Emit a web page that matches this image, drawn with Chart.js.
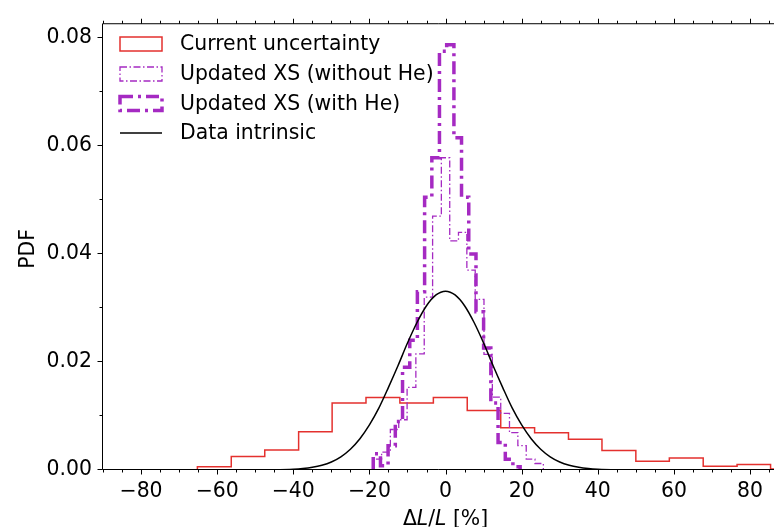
<!DOCTYPE html>
<html>
<head>
<meta charset="utf-8">
<script src="https://cdn.jsdelivr.net/npm/chart.js@4.4.0/dist/chart.umd.min.js"></script>
<style>
  html, body { margin: 0; padding: 0; background: #fff; }
</style>
</head>
<body>
<canvas id="chart" width="774" height="527"></canvas>
<script>
// tick labels
const xTicks = [-80, -60, -40, -20, 0, 20, 40, 60, 80];
const yTicks = [0, 0.02, 0.04, 0.06, 0.08];

// current uncertainty (bin edges + pdf per bin)
const currentEdges = [-65.2, -56.3, -47.5, -38.6, -29.8, -20.9, -12.0, -3.2, 5.7, 14.5, 23.4, 32.3, 41.1, 50.0, 58.8, 67.7, 76.6, 85.4, 94.3];
const currentPdf = [0.0006, 0.0025, 0.0037, 0.0071, 0.0124, 0.0134, 0.0124, 0.0134, 0.0110, 0.0078, 0.0069, 0.0057, 0.0036, 0.0016, 0.0022, 0.0007, 0.0010, 0.0002];

// updated XS without He
const noHeEdges = [-19.0, -16.8, -14.5, -12.3, -10.1, -7.8, -5.6, -3.4, -1.1, 1.1, 3.4, 5.6, 7.8, 10.1, 12.3, 14.5, 16.8, 19.0, 21.2, 23.5, 25.7];
const noHePdf = [0.0020, 0.0033, 0.0075, 0.0093, 0.0153, 0.0215, 0.0320, 0.0470, 0.0578, 0.0424, 0.0440, 0.0370, 0.0316, 0.0214, 0.0135, 0.0105, 0.0069, 0.0045, 0.0020, 0.0012];

// updated XS with He
const withHeEdges = [-19.0, -17.1, -15.1, -13.2, -11.3, -9.4, -7.4, -5.5, -3.6, -1.6, 0.3, 2.2, 4.2, 6.1, 8.0, 10.0, 11.9, 13.8, 15.7, 17.7, 19.6];
const withHePdf = [0.0030, 0.0008, 0.0045, 0.0090, 0.0190, 0.0240, 0.0330, 0.0505, 0.0578, 0.0775, 0.0787, 0.0615, 0.0505, 0.0400, 0.0293, 0.0226, 0.0124, 0.0051, 0.0020, 0.0006];

// data intrinsic curve
const intrinsicX = [-90, -60, -50, -45, -40, -37.5, -35, -32.5, -30, -27.5, -25, -22.5, -20, -17.5, -15, -12.5, -10, -7.5, -5, -2.5, 0, 2.5, 5, 7.5, 10, 12.5, 15, 17.5, 20, 22.5, 25, 27.5, 30, 32.5, 35, 37.5, 40, 45, 50, 60, 90];
const intrinsicPdf = [0, 0, 0.00001, 0.00003, 0.00013, 0.00026, 0.00049, 0.00087, 0.00149, 0.00245, 0.00385, 0.0058, 0.00835, 0.0115, 0.0153, 0.0193, 0.0235, 0.0273, 0.0304, 0.0324, 0.0331, 0.0324, 0.0304, 0.0273, 0.0235, 0.0193, 0.0153, 0.0115, 0.00835, 0.0058, 0.00385, 0.00245, 0.00149, 0.00087, 0.00049, 0.00026, 0.00013, 0.00003, 0.00001, 0, 0];

const RED = '#e4312e';
const PURPLE = '#a52ac2';
const FONT = '"DejaVu Sans", sans-serif';
const FS = 20.4;

// step outline like hist(histtype='step')
function stepPoints(edges, vals) {
  const pts = [{ x: edges[0], y: 0 }];
  vals.forEach((v, i) => pts.push({ x: edges[i], y: v }, { x: edges[i + 1], y: v }));
  pts.push({ x: edges[edges.length - 1], y: 0 });
  return pts;
}

const fmtX = v => (v < 0 ? '\u2212' + Math.abs(v) : String(v));

const frame = {
  id: 'frame',
  afterDatasetsDraw(chart) {
    const { ctx, chartArea: a, scales: { x, y } } = chart;
    ctx.save();
    ctx.strokeStyle = '#000';
    ctx.lineWidth = 1;
    const L = a.left - 0.5, T = a.top + 0.5, B = a.bottom - 0.5, R = a.right + 2;
    ctx.beginPath();
    ctx.moveTo(L, T); ctx.lineTo(L, B); ctx.lineTo(R, B);
    ctx.moveTo(L, T); ctx.lineTo(R, T);
    // x ticks (bottom + top), minor every 5
    for (let v = -90; v <= 86; v += 5) {
      const px = Math.round(x.getPixelForValue(v)) + 0.5;
      const len = xTicks.includes(v) ? 5 : 3;
      ctx.moveTo(px, B); ctx.lineTo(px, B + len);
      ctx.moveTo(px, T); ctx.lineTo(px, T - len);
    }
    // y ticks, minor every 0.01
    for (let i = 0; i <= 8; i++) {
      const v = i * 0.01;
      const py = Math.round(y.getPixelForValue(v)) - 0.5;
      const len = i % 2 === 0 ? 5 : 3;
      ctx.moveTo(L, py); ctx.lineTo(L - len, py);
    }
    ctx.stroke();

    // axis titles
    ctx.fillStyle = '#000';
    ctx.textBaseline = 'alphabetic';
    ctx.save();
    ctx.translate(34, 249);
    ctx.rotate(-Math.PI / 2);
    ctx.textAlign = 'center';
    ctx.font = FS + 'px ' + FONT;
    ctx.fillText('PDF', 0, 0);
    ctx.restore();

    const parts = [['\u0394', ''], ['L', 'italic '], ['/', ''], ['L', 'italic '], [' [%]', '']];
    let total = 0;
    parts.forEach(p => { ctx.font = p[1] + FS + 'px ' + FONT; total += ctx.measureText(p[0]).width; });
    let cx = x.getPixelForValue(0) - total / 2;
    ctx.textAlign = 'left';
    parts.forEach(p => {
      ctx.font = p[1] + FS + 'px ' + FONT;
      ctx.fillText(p[0], cx, 525);
      cx += ctx.measureText(p[0]).width;
    });
    ctx.restore();
  }
};

const legendBox = {
  id: 'legendBox',
  afterDraw(chart) {
    const { ctx } = chart;
    const hx = 120, hw = 42, hh = 14, tx = 180;
    const rows = [44, 74, 103.5, 133];
    const labels = ['Current uncertainty', 'Updated XS (without He)', 'Updated XS (with He)', 'Data intrinsic'];
    ctx.save();
    ctx.lineCap = 'butt';
    // red box
    ctx.strokeStyle = RED; ctx.lineWidth = 1.5; ctx.setLineDash([]);
    ctx.strokeRect(hx, rows[0] - hh / 2, hw, hh);
    // thin dash-dot box
    ctx.strokeStyle = PURPLE; ctx.lineWidth = 1.3; ctx.setLineDash([7, 2.5, 1.5, 2.5]);
    ctx.strokeRect(hx, rows[1] - hh / 2, hw, hh);
    // thick dash-dot box
    ctx.lineWidth = 3.5; ctx.setLineDash([13, 5, 3, 5]);
    ctx.strokeRect(hx, rows[2] - hh / 2, hw, hh);
    // black line
    ctx.setLineDash([]);
    ctx.strokeStyle = '#000'; ctx.lineWidth = 1.5;
    ctx.beginPath(); ctx.moveTo(hx, rows[3]); ctx.lineTo(hx + hw, rows[3]); ctx.stroke();

    ctx.fillStyle = '#000';
    ctx.font = FS + 'px ' + FONT;
    ctx.textBaseline = 'middle';
    labels.forEach((t, i) => ctx.fillText(t, tx, rows[i] + 1));
    ctx.restore();
  }
};

new Chart(document.getElementById('chart'), {
  type: 'line',
  data: {
    datasets: [
      {
        label: 'Data intrinsic',
        data: intrinsicX.map((v, i) => ({ x: v, y: intrinsicPdf[i] })),
        borderColor: '#000', borderWidth: 1.5, pointRadius: 0,
        cubicInterpolationMode: 'monotone', order: 0
      },
      {
        label: 'Updated XS (with He)',
        data: stepPoints(withHeEdges, withHePdf),
        borderColor: PURPLE, borderWidth: 3.5, borderDash: [13, 5, 3, 5],
        pointRadius: 0, order: 1
      },
      {
        label: 'Updated XS (without He)',
        data: stepPoints(noHeEdges, noHePdf),
        borderColor: PURPLE, borderWidth: 1.3, borderDash: [7, 2.5, 1.5, 2.5],
        pointRadius: 0, order: 2
      },
      {
        label: 'Current uncertainty',
        data: stepPoints(currentEdges, currentPdf),
        borderColor: RED, borderWidth: 1.5,
        pointRadius: 0, order: 3
      }
    ]
  },
  options: {
    responsive: false,
    animation: false,
    layout: { padding: { top: 16, left: 0, right: 0, bottom: 0 } },
    plugins: { legend: { display: false }, tooltip: { enabled: false } },
    scales: {
      x: {
        type: 'linear', min: -90, max: 86.3,
        afterBuildTicks: s => { s.ticks = xTicks.map(v => ({ value: v })); },
        afterFit: s => { s.height = 57; },
        grid: { display: false, drawTicks: false },
        border: { display: false },
        ticks: { color: '#000', font: { family: FONT, size: FS }, padding: 9, maxRotation: 0, autoSkip: false, callback: v => fmtX(v) }
      },
      y: {
        type: 'linear', min: 0, max: 0.0827,
        afterBuildTicks: s => { s.ticks = yTicks.map(v => ({ value: v })); },
        afterFit: s => { s.width = 103; },
        grid: { display: false, drawTicks: false },
        border: { display: false },
        ticks: { color: '#000', font: { family: FONT, size: FS }, padding: 11, callback: v => v.toFixed(2) }
      }
    }
  },
  plugins: [frame, legendBox]
});
</script>
</body>
</html>
